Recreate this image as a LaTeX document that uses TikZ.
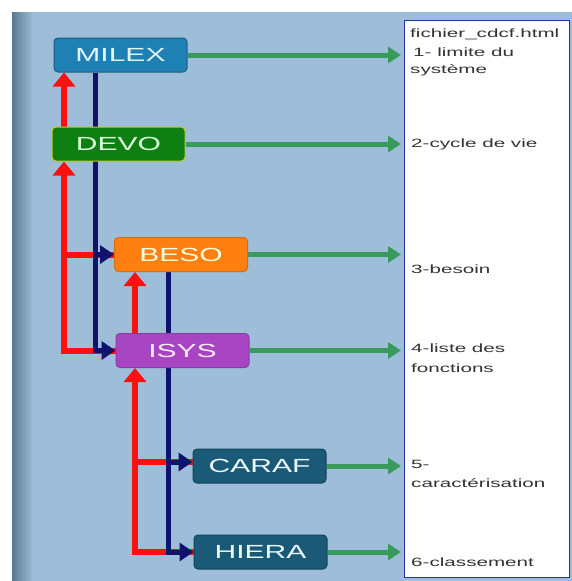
\documentclass[tikz,border=0pt]{standalone}
\usepackage{fontspec}
\usetikzlibrary{arrows.meta}
\newfontfamily\boxfont[FakeStretch=1.58]{Liberation Sans}
\newfontfamily\notefont[FakeStretch=1.72]{Liberation Sans}

\definecolor{bgblue}{HTML}{9DBDD8}
\definecolor{bgdark}{HTML}{5B7890}
\definecolor{cmilex}{HTML}{1F80B4}
\definecolor{cdevo}{HTML}{0F7F14}
\definecolor{cbeso}{HTML}{FF7F11}
\definecolor{cisys}{HTML}{A745C3}
\definecolor{cteal}{HTML}{1A5A76}
\definecolor{redline}{HTML}{FF1010}
\definecolor{navyline}{HTML}{12126E}
\definecolor{greenline}{HTML}{3A9A5E}
\definecolor{paneledge}{HTML}{2233A0}
\definecolor{notegray}{HTML}{333333}

\pgfdeclarelayer{backdrop}
\pgfdeclarelayer{links}
\pgfsetlayers{backdrop,links,main}

\tikzset{
  module/.style={rounded corners=4pt, minimum width=133pt, minimum height=34pt,
    inner sep=0pt, line width=1pt, font=\boxfont\fontsize{19}{19}\selectfont},
  redlink/.style={draw=redline, line width=6pt},
  navylink/.style={draw=navyline, line width=5pt},
  greenlink/.style={draw=greenline, line width=5pt,
    -{Triangle[length=13pt,width=16pt]}},
  redtip/.style={-{Triangle[length=14pt,width=22pt]}},
  navytip/.style={-{Triangle[length=14pt,width=18pt]}},
  note/.style={anchor=base west, inner sep=0pt, text=notegray,
    font=\notefont\fontsize{12}{12}\selectfont}
}

\begin{document}
\begin{tikzpicture}[x=1pt,y=-1pt]
  \useasboundingbox (0,0) rectangle (572,581);

  \begin{pgfonlayer}{backdrop}
    % backdrop with a darker band along its left edge
    \fill[bgblue] (12,12) rectangle (572,581);
    \shade[left color=bgdark, right color=bgblue] (12,12) rectangle (33,581);
    % result panel
    \draw[fill=white, draw=paneledge, line width=1pt] (404,20) rectangle (569,577);
  \end{pgfonlayer}

  % modules
  \node[module, fill=cmilex, draw=cmilex!75!black, text=white!88!cyan] (milex) at (120.5,55) {MILEX};
  \node[module, fill=cdevo, draw=yellow!70!cdevo, text=white!85!green] (devo) at (118.5,144) {DEVO};
  \node[module, fill=cbeso, draw=cbeso!85!black, text=white!85!yellow] (beso) at (181,254.5) {BESO};
  \node[module, fill=cisys, draw=cisys!85!black, text=white!92!magenta] (isys) at (182.5,350.5) {ISYS};
  \node[module, fill=cteal, draw=cteal!75!black, text=white!92!cyan] (caraf) at (259.5,466) {CARAF};
  \node[module, fill=cteal, draw=cteal!75!black, text=white!92!cyan] (hiera) at (260.5,552) {HIERA};

  % columns used by the feedback (red) and flow (navy) links
  \coordinate (rx)  at (64,0);
  \coordinate (nx)  at (95,0);
  \coordinate (rx2) at (135,0);
  \coordinate (nx2) at (168,0);
  \coordinate (px)  at (401,0);
  \coordinate (cin) at ([yshift=4pt]caraf.west);

  \begin{pgfonlayer}{links}
    % feedback links (red)
    \draw[redlink, redtip] (rx |- devo.north) -- (rx |- milex.south);
    \draw[redlink, redtip] (isys.west) -| (rx |- devo.south);
    \draw[redlink] (beso.west) -- (rx |- beso.west);
    \draw[redlink, redtip] (rx2 |- isys.north) -- (rx2 |- beso.south);
    \draw[redlink, redtip] (hiera.west) -| (rx2 |- isys.south);
    \draw[redlink] (cin) -- (rx2 |- cin);

    % flow links (navy)
    \draw[navylink, navytip] (nx |- milex.south) |- (isys.west);
    \draw[navylink, navytip] (nx |- beso.west) -- (beso.west);
    \draw[navylink, navytip] (nx2 |- beso.south) |- (hiera.west);
    \draw[navylink, navytip] (nx2 |- cin) -- (cin);

    % output links (green) to the panel
    \foreach \m in {milex,devo,beso,isys,caraf,hiera}
      \draw[greenlink] (\m.east) -- (\m.east -| px);
  \end{pgfonlayer}

  % panel entries
  \node[note] (n0) at (410,37) {fichier\_cdcf.html};
  \node[note] (n1a) at (413,56) {1- limite du};
  \node[note] (n1b) at (410,73) {système};
  \node[note] (n2) at (411,147) {2-cycle de vie};
  \node[note] (n3) at (411,273) {3-besoin};
  \node[note] (n4a) at (411,352) {4-liste des};
  \node[note] (n4b) at (411,372) {fonctions};
  \node[note] (n5a) at (411,468) {5-};
  \node[note] (n5b) at (411,487) {caractérisation};
  \node[note] (n6) at (411,566) {6-classement};
\end{tikzpicture}
\end{document}
